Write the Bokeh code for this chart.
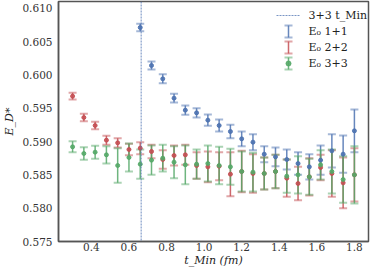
from bokeh.plotting import figure
from bokeh.models import (ColumnDataSource, Whisker, TeeHead, Span, Label, BoxAnnotation,
                          FixedTicker, NumeralTickFormatter, Range1d)
from bokeh.embed import file_html
from bokeh.resources import INLINE

# ---- data ----
t_all = [0.30, 0.36, 0.42, 0.48, 0.54, 0.60, 0.66, 0.72, 0.78, 0.84, 0.90, 0.96, 1.02,
         1.08, 1.14, 1.20, 1.26, 1.32, 1.38, 1.44, 1.50, 1.56, 1.62, 1.68, 1.74, 1.80]
t_11 = [0.66, 0.72, 0.78, 0.84, 0.90, 0.96, 1.02, 1.08, 1.14, 1.20,
        1.26, 1.32, 1.38, 1.44, 1.50, 1.56, 1.62, 1.68, 1.74, 1.80]

e0_11 = [0.6071, 0.6014, 0.5994, 0.5965, 0.5947, 0.5943, 0.5932, 0.5924, 0.5915, 0.5904,
         0.5899, 0.5881, 0.5877, 0.5873, 0.5867, 0.5862, 0.5872, 0.5886, 0.5881, 0.5916]
err_11 = [0.00057, 0.0006, 0.00067, 0.00065, 0.0007, 0.0007, 0.00085, 0.0009, 0.001, 0.0011,
          0.0012, 0.0012, 0.0014, 0.0015, 0.0017, 0.0019, 0.0022, 0.0025, 0.0028, 0.0032]

e0_22 = [0.5968, 0.5936, 0.5924, 0.5902, 0.5898, 0.5888, 0.5890, 0.5885, 0.5873, 0.5879,
         0.5880, 0.5864, 0.5862, 0.5863, 0.5851, 0.5855, 0.5852, 0.5852, 0.5855, 0.5845,
         0.5837, 0.5847, 0.5861, 0.5852, 0.5838, 0.5850]
err_22 = [0.0005, 0.00055, 0.00057, 0.00067, 0.0007, 0.00085, 0.0009, 0.001, 0.0014, 0.0015,
          0.0015, 0.002, 0.0023, 0.0021, 0.0033, 0.0031, 0.0029, 0.0024, 0.0025, 0.0028,
          0.0025, 0.0028, 0.0019, 0.0035, 0.0038, 0.004]

e0_33 = [0.5892, 0.5882, 0.5884, 0.5880, 0.5864, 0.5876, 0.5866, 0.5872, 0.5875, 0.5869,
         0.5865, 0.5866, 0.5867, 0.5864, 0.5862, 0.5855, 0.5854, 0.5852, 0.5855, 0.5848,
         0.5850, 0.5847, 0.5865, 0.5855, 0.5843, 0.5850]
err_33 = [0.00082, 0.00094, 0.00097, 0.0013, 0.0026, 0.0021, 0.0022, 0.0022, 0.002, 0.0024,
          0.0029, 0.0022, 0.0027, 0.0028, 0.0027, 0.003, 0.0029, 0.0024, 0.0025, 0.0025,
          0.0028, 0.0027, 0.0022, 0.0033, 0.0035, 0.0043]

t_min_33 = 0.665

x_ticks = [0.4, 0.6, 0.8, 1.0, 1.2, 1.4, 1.6, 1.8]
y_ticks = [0.575, 0.580, 0.585, 0.590, 0.595, 0.600, 0.605, 0.610]

labels = ["3+3 t_Min", "E\u2080 1+1", "E\u2080 2+2", "E\u2080 3+3"]

BLUE, RED, GREEN = "#4C72B0", "#C44E52", "#55A868"
FONT = "DejaVu Serif"

FW, FH = 310, 240          # plot frame size in px

p = figure(frame_width=FW, frame_height=FH, output_backend="svg", toolbar_location=None,
           x_range=Range1d(0.225, 1.875), y_range=Range1d(0.575, 0.611),
           min_border_left=52, min_border_right=2, min_border_top=1, min_border_bottom=0)

p.xgrid.visible = False
p.ygrid.visible = False
p.outline_line_color = "#555555"
p.outline_line_width = 1.5
p.background_fill_color = "white"

for ax in (p.xaxis[0], p.yaxis[0]):
    ax.axis_line_color = "#555555"
    ax.axis_line_width = 1.5
    ax.major_tick_line_color = None
    ax.minor_tick_line_color = None
    ax.major_tick_out = 0
    ax.major_tick_in = 0
    ax.minor_tick_out = 0
    ax.minor_tick_in = 0
    ax.major_label_text_font = FONT
    ax.major_label_text_font_size = "10.5px"
    ax.major_label_text_color = "#333333"
    ax.axis_label_text_font = FONT
    ax.axis_label_text_font_size = "11px"
    ax.axis_label_text_font_style = "italic"
    ax.axis_label_text_color = "#222222"

p.xaxis.ticker = FixedTicker(ticks=x_ticks)
p.yaxis.ticker = FixedTicker(ticks=y_ticks)
p.xaxis.formatter = NumeralTickFormatter(format="0.0")
p.yaxis.formatter = NumeralTickFormatter(format="0.000")
p.xaxis.major_label_standoff = 1
p.yaxis.major_label_standoff = 6
p.xaxis.axis_label = "t_Min (fm)"
p.yaxis.axis_label = "E_D*"
p.xaxis.axis_label_standoff = 0
p.yaxis.axis_label_standoff = 3

span = Span(location=t_min_33, dimension="height", line_color=BLUE, line_dash="2 1",
            line_width=1.1, line_alpha=0.75)
p.add_layout(span)


def heads(color):
    return dict(upper_head=TeeHead(size=8, line_color=color, line_width=2, line_alpha=0.5),
                lower_head=TeeHead(size=8, line_color=color, line_width=2, line_alpha=0.5))


def series(t, v, e, color):
    src = ColumnDataSource(dict(t=t, v=v, lo=[a - b for a, b in zip(v, e)],
                                hi=[a + b for a, b in zip(v, e)]))
    w = Whisker(source=src, base="t", lower="lo", upper="hi", line_color=color,
                line_width=1.5, line_alpha=0.85, **heads(color))
    p.add_layout(w)
    p.scatter("t", "v", source=src, size=4, marker="circle", fill_color=color,
              line_color=color, line_alpha=0.9, fill_alpha=0.9)


series(t_11, e0_11, err_11, BLUE)
series(t_all, e0_22, err_22, RED)
series(t_all, e0_33, err_33, GREEN)

# ---- legend (screen units, relative to the plot frame) ----
GLYPH_X = FW - 80          # centre of the legend symbols
TEXT_X = FW - 60           # left edge of legend labels
ROW_Y = [14, 30, 46, 62]   # row centres measured from the frame top

for lab, ry in zip(labels, ROW_Y):
    p.add_layout(Label(x=TEXT_X, y=FH - ry, x_units="screen", y_units="screen", text=lab,
                       text_font=FONT, text_font_size="11px", text_color="#222222",
                       text_baseline="middle", text_align="left"))

# dotted line symbol
lsrc0 = ColumnDataSource(dict(b=[FH - ROW_Y[0]], lo=[GLYPH_X - 12], hi=[GLYPH_X + 12]))
p.add_layout(Whisker(source=lsrc0, base="b", lower="lo", upper="hi", dimension="width",
                     base_units="screen", lower_units="screen", upper_units="screen",
                     line_color=BLUE, line_dash="2 1", line_width=1.1, line_alpha=0.75,
                     upper_head=None, lower_head=None))

# error-bar symbols
for ry, color in zip(ROW_Y[1:], [BLUE, RED, GREEN]):
    cy = FH - ry
    lsrc = ColumnDataSource(dict(b=[GLYPH_X], lo=[cy - 6], hi=[cy + 6]))
    p.add_layout(Whisker(source=lsrc, base="b", lower="lo", upper="hi",
                         base_units="screen", lower_units="screen", upper_units="screen",
                         line_color=color, line_width=1.5, line_alpha=0.85, **heads(color)))

# dot of the 3+3 symbol
p.add_layout(BoxAnnotation(left=GLYPH_X - 2.5, right=GLYPH_X + 2.5,
                           bottom=FH - ROW_Y[3] - 2.5, top=FH - ROW_Y[3] + 2.5,
                           left_units="screen", right_units="screen",
                           bottom_units="screen", top_units="screen",
                           fill_color=GREEN, fill_alpha=0.9, line_color=GREEN,
                           line_alpha=0.9, border_radius=3))

open("out.html", "w").write(file_html(p, INLINE))
